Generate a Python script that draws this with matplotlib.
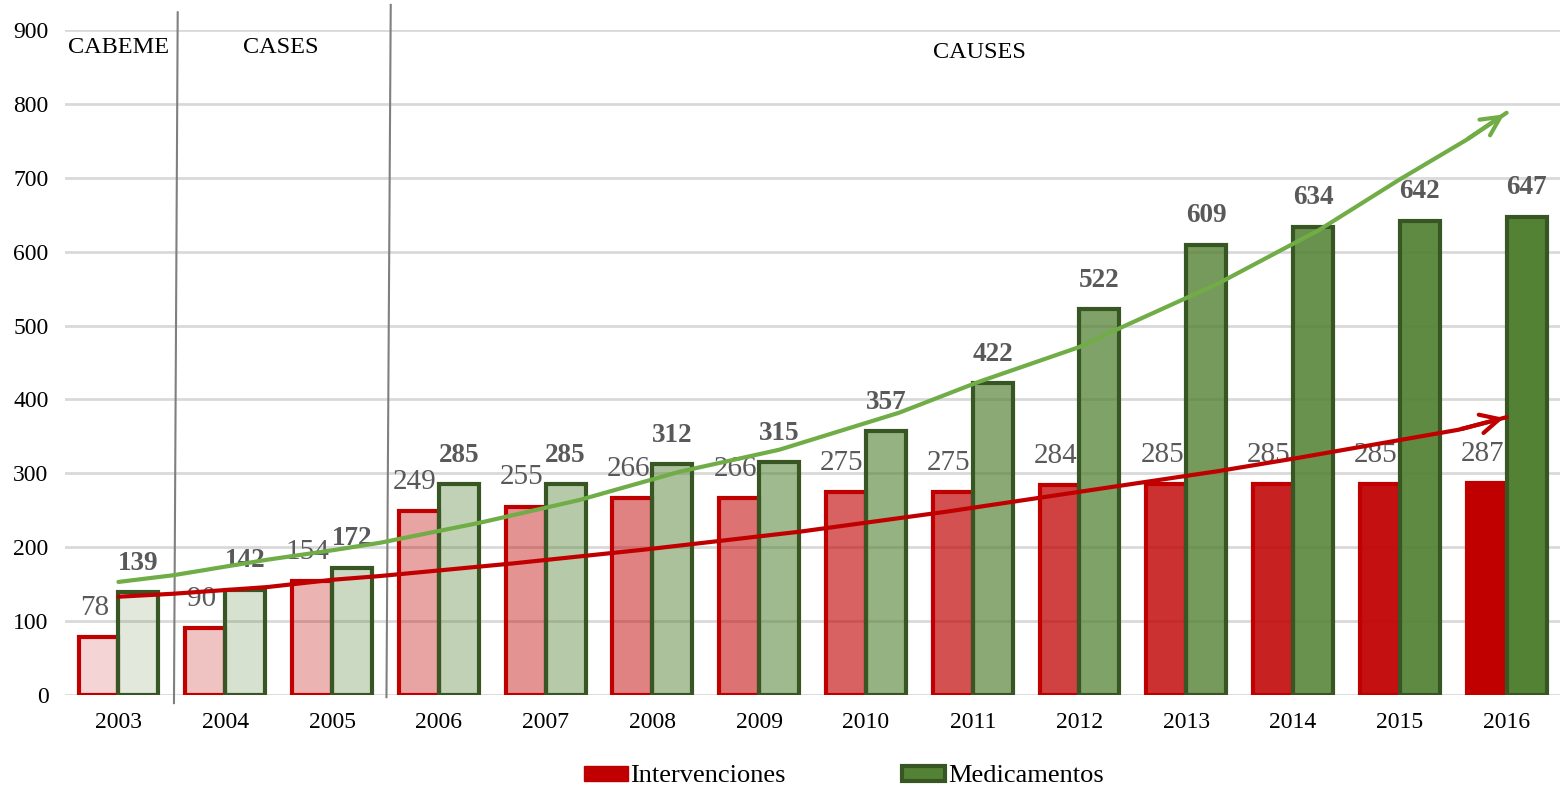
import matplotlib
matplotlib.use("Agg")
import matplotlib.pyplot as plt
import numpy as np
from matplotlib.patches import Patch

plt.rcParams['font.family'] = ['Liberation Serif', 'DejaVu Serif']

years = ['2003', '2004', '2005', '2006', '2007', '2008', '2009', '2010',
         '2011', '2012', '2013', '2014', '2015', '2016']
intervenciones = [78, 90, 154, 249, 255, 266, 266, 275, 275, 284, 285, 285, 285, 287]
medicamentos = [139, 142, 172, 285, 285, 312, 315, 357, 422, 522, 609, 634, 642, 647]

# hand-drawn trend arrows
green_trend_x = [0.0, 0.51, 1.39, 2.01, 2.45, 3.38, 4.32, 5.25, 6.19, 7.31, 8.06,
                 9.00, 9.40, 10.30, 11.24, 11.99, 12.62, 13.0]
green_trend_y = [153, 162, 183, 196, 206, 233, 264, 302, 332, 382, 424,
                 471, 498, 557, 629, 697, 751, 788]
red_trend_x = [0.0, 0.51, 1.39, 2.01, 2.45, 3.69, 4.94, 6.38, 7.75, 9.00,
               10.30, 11.05, 12.55, 13.0]
red_trend_y = [133, 137, 146, 156, 161, 178, 197, 221, 248, 275,
               303, 321, 359, 376]

program_labels = ['CABEME', 'CASES', 'CAUSES']

RED = '#C00000'
GREEN = '#548235'
GREEN_EDGE = '#375623'
LABEL = '#595959'

fig = plt.figure(figsize=(15.6, 7.86), dpi=100)
ax = fig.add_axes([0.0417, 0.1158, 0.9583, 0.846])

n = len(years)
x = np.arange(n)
w = 0.374
alphas = np.linspace(0.17, 1.0, n)

for i in range(n):
    ax.bar(x[i] - w / 2, intervenciones[i], w, color=RED, alpha=alphas[i],
           edgecolor='none', zorder=3)
    ax.bar(x[i] - w / 2, intervenciones[i], w, facecolor='none',
           edgecolor=RED, linewidth=3, zorder=3)
    ax.bar(x[i] + w / 2, medicamentos[i], w, color=GREEN, alpha=alphas[i],
           edgecolor='none', zorder=3)
    ax.bar(x[i] + w / 2, medicamentos[i], w, facecolor='none',
           edgecolor=GREEN_EDGE, linewidth=3, zorder=3)

for i in range(n):
    ax.annotate(str(intervenciones[i]), (x[i] - w / 2, intervenciones[i]),
                xytext=(-3, 21), textcoords='offset points', ha='center', va='center',
                fontsize=21, color=LABEL, zorder=4)
    ax.annotate(str(medicamentos[i]), (x[i] + w / 2, medicamentos[i]),
                xytext=(0, 21), textcoords='offset points', ha='center', va='center',
                fontsize=19.5, color=LABEL, fontweight='bold', zorder=4)

# trend arrows
ax.plot(green_trend_x, green_trend_y, color='#70AD47', lw=3, zorder=6,
        solid_capstyle='round')
ax.annotate('', xy=(green_trend_x[-1], green_trend_y[-1]),
            xytext=(green_trend_x[-2], green_trend_y[-2]),
            arrowprops=dict(arrowstyle='->', color='#70AD47', lw=3,
                            mutation_scale=34), zorder=6)
ax.plot(red_trend_x, red_trend_y, color=RED, lw=3, zorder=6,
        solid_capstyle='round')
ax.annotate('', xy=(red_trend_x[-1], red_trend_y[-1]),
            xytext=(red_trend_x[-2], red_trend_y[-2]),
            arrowprops=dict(arrowstyle='->', color=RED, lw=3,
                            mutation_scale=34), zorder=6)

# separators
ax.plot([0.555, 0.52], [924, -11], color='#7F7F7F', lw=1.5, clip_on=False, zorder=5)
ax.plot([2.55, 2.51], [934, -3], color='#7F7F7F', lw=1.5, clip_on=False, zorder=5)

ax.text(0.0, 877, program_labels[0], ha='center', va='center', fontsize=17.5, color='black')
ax.text(1.52, 877, program_labels[1], ha='center', va='center', fontsize=17.5, color='black')
ax.text(8.06, 870, program_labels[2], ha='center', va='center', fontsize=17.5, color='black')

ax.set_xlim(-0.5, n - 0.5)
ax.set_ylim(0, 900)
ax.set_yticks(range(0, 901, 100))
ax.set_xticks(x)
ax.set_xticklabels(years)
ax.tick_params(axis='both', length=0, labelsize=17, colors='black')
ax.tick_params(axis='x', pad=12)
ax.tick_params(axis='y', pad=12)
ax.yaxis.grid(True, color='#D9D9D9', lw=2)
ax.set_axisbelow(True)
for s in ax.spines.values():
    s.set_visible(False)

handles = [Patch(facecolor=RED, edgecolor=RED, label='Intervenciones'),
           Patch(facecolor=GREEN, edgecolor=GREEN_EDGE, linewidth=3, label='Medicamentos')]
fig.legend(handles=handles, loc='lower center', bbox_to_anchor=(0.541, -0.032), ncol=2,
           frameon=False, fontsize=19, handlelength=1.65, handleheight=0.5,
           handletextpad=0.1, columnspacing=4.4)

fig.savefig('out.png', dpi=100)
